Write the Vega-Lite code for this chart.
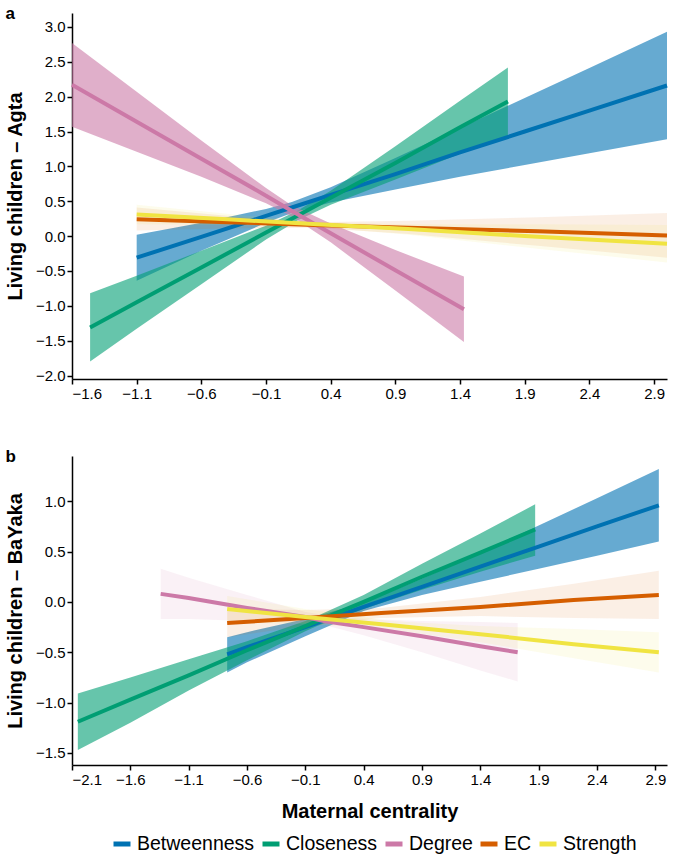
{
"$schema": "https://vega.github.io/schema/vega-lite/v6.json",
"config": {"font": "Liberation Sans", "view": {"stroke": null},
 "axis": {"domainColor": "#000", "domainWidth": 1.5, "tickColor": "#000", "tickWidth": 1.5, "tickSize": 5, "labelFontSize": 15, "labelColor": "#000", "titleFontSize": 20, "titleFontWeight": "bold", "titleColor": "#000", "grid": false, "labelFont": "Liberation Sans", "titleFont": "Liberation Sans", "titlePadding": 10},
 "concat": {"spacing": 47}},
"data": {"values": [
{"p":"a","m":"Betweenness","s":"yes","x":-1.1,"y":-0.31,"lo":-0.64,"hi":0.02},
{"p":"a","m":"Betweenness","s":"yes","x":-0.6,"y":-0.01,"lo":-0.21,"hi":0.19},
{"p":"a","m":"Betweenness","s":"yes","x":-0.1,"y":0.29,"lo":0.19,"hi":0.39},
{"p":"a","m":"Betweenness","s":"yes","x":0.1,"y":0.41,"lo":0.33,"hi":0.49},
{"p":"a","m":"Betweenness","s":"yes","x":0.4,"y":0.59,"lo":0.48,"hi":0.70},
{"p":"a","m":"Betweenness","s":"yes","x":0.9,"y":0.89,"lo":0.67,"hi":1.12},
{"p":"a","m":"Betweenness","s":"yes","x":1.4,"y":1.20,"lo":0.85,"hi":1.55},
{"p":"a","m":"Betweenness","s":"yes","x":1.9,"y":1.50,"lo":1.02,"hi":1.98},
{"p":"a","m":"Betweenness","s":"yes","x":2.4,"y":1.80,"lo":1.19,"hi":2.41},
{"p":"a","m":"Betweenness","s":"yes","x":3.0,"y":2.16,"lo":1.39,"hi":2.93},
{"p":"a","m":"Closeness","s":"yes","x":-1.46,"y":-1.31,"lo":-1.80,"hi":-0.82},
{"p":"a","m":"Closeness","s":"yes","x":-1.1,"y":-0.95,"lo":-1.33,"hi":-0.57},
{"p":"a","m":"Closeness","s":"yes","x":-0.6,"y":-0.45,"lo":-0.69,"hi":-0.21},
{"p":"a","m":"Closeness","s":"yes","x":-0.1,"y":0.05,"lo":-0.05,"hi":0.15},
{"p":"a","m":"Closeness","s":"yes","x":0.15,"y":0.30,"lo":0.23,"hi":0.37},
{"p":"a","m":"Closeness","s":"yes","x":0.4,"y":0.55,"lo":0.45,"hi":0.65},
{"p":"a","m":"Closeness","s":"yes","x":0.9,"y":1.05,"lo":0.81,"hi":1.29},
{"p":"a","m":"Closeness","s":"yes","x":1.4,"y":1.56,"lo":1.18,"hi":1.94},
{"p":"a","m":"Closeness","s":"yes","x":1.77,"y":1.93,"lo":1.44,"hi":2.42},
{"p":"a","m":"Degree","s":"yes","x":-1.6,"y":2.17,"lo":1.57,"hi":2.77},
{"p":"a","m":"Degree","s":"yes","x":-1.1,"y":1.64,"lo":1.21,"hi":2.07},
{"p":"a","m":"Degree","s":"yes","x":-0.6,"y":1.11,"lo":0.85,"hi":1.37},
{"p":"a","m":"Degree","s":"yes","x":-0.1,"y":0.58,"lo":0.47,"hi":0.69},
{"p":"a","m":"Degree","s":"yes","x":0.1,"y":0.36,"lo":0.28,"hi":0.44},
{"p":"a","m":"Degree","s":"yes","x":0.4,"y":0.04,"lo":-0.09,"hi":0.18},
{"p":"a","m":"Degree","s":"yes","x":0.9,"y":-0.49,"lo":-0.78,"hi":-0.20},
{"p":"a","m":"Degree","s":"yes","x":1.43,"y":-1.05,"lo":-1.52,"hi":-0.58},
{"p":"a","m":"EC","s":"no","x":-1.1,"y":0.24,"lo":0.08,"hi":0.41},
{"p":"a","m":"EC","s":"no","x":-0.4,"y":0.20,"lo":0.11,"hi":0.29},
{"p":"a","m":"EC","s":"no","x":0.27,"y":0.16,"lo":0.12,"hi":0.20},
{"p":"a","m":"EC","s":"no","x":1.0,"y":0.12,"lo":0.03,"hi":0.22},
{"p":"a","m":"EC","s":"no","x":2.0,"y":0.07,"lo":-0.14,"hi":0.27},
{"p":"a","m":"EC","s":"no","x":3.0,"y":0.01,"lo":-0.31,"hi":0.33},
{"p":"a","m":"Strength","s":"no","x":-1.1,"y":0.31,"lo":0.17,"hi":0.45},
{"p":"a","m":"Strength","s":"no","x":-0.4,"y":0.24,"lo":0.16,"hi":0.32},
{"p":"a","m":"Strength","s":"no","x":0.3,"y":0.17,"lo":0.13,"hi":0.20},
{"p":"a","m":"Strength","s":"no","x":1.0,"y":0.10,"lo":0.02,"hi":0.17},
{"p":"a","m":"Strength","s":"no","x":2.0,"y":-0.01,"lo":-0.18,"hi":0.17},
{"p":"a","m":"Strength","s":"no","x":3.0,"y":-0.11,"lo":-0.38,"hi":0.16},
{"p":"b","m":"Betweenness","s":"yes","x":-0.77,"y":-0.52,"lo":-0.70,"hi":-0.35},
{"p":"b","m":"Betweenness","s":"yes","x":-0.6,"y":-0.45,"lo":-0.60,"hi":-0.30},
{"p":"b","m":"Betweenness","s":"yes","x":-0.1,"y":-0.25,"lo":-0.34,"hi":-0.17},
{"p":"b","m":"Betweenness","s":"yes","x":0.4,"y":-0.05,"lo":-0.09,"hi":-0.01},
{"p":"b","m":"Betweenness","s":"yes","x":0.9,"y":0.15,"lo":0.07,"hi":0.23},
{"p":"b","m":"Betweenness","s":"yes","x":1.4,"y":0.35,"lo":0.20,"hi":0.49},
{"p":"b","m":"Betweenness","s":"yes","x":1.9,"y":0.55,"lo":0.33,"hi":0.76},
{"p":"b","m":"Betweenness","s":"yes","x":2.4,"y":0.75,"lo":0.46,"hi":1.03},
{"p":"b","m":"Betweenness","s":"yes","x":2.93,"y":0.96,"lo":0.60,"hi":1.32},
{"p":"b","m":"Closeness","s":"yes","x":-2.05,"y":-1.19,"lo":-1.47,"hi":-0.91},
{"p":"b","m":"Closeness","s":"yes","x":-1.6,"y":-0.97,"lo":-1.20,"hi":-0.75},
{"p":"b","m":"Closeness","s":"yes","x":-1.1,"y":-0.73,"lo":-0.88,"hi":-0.57},
{"p":"b","m":"Closeness","s":"yes","x":-0.6,"y":-0.48,"lo":-0.58,"hi":-0.39},
{"p":"b","m":"Closeness","s":"yes","x":-0.1,"y":-0.24,"lo":-0.29,"hi":-0.19},
{"p":"b","m":"Closeness","s":"yes","x":0.0,"y":-0.19,"lo":-0.24,"hi":-0.14},
{"p":"b","m":"Closeness","s":"yes","x":0.4,"y":0.00,"lo":-0.07,"hi":0.07},
{"p":"b","m":"Closeness","s":"yes","x":0.9,"y":0.25,"lo":0.12,"hi":0.38},
{"p":"b","m":"Closeness","s":"yes","x":1.4,"y":0.49,"lo":0.30,"hi":0.68},
{"p":"b","m":"Closeness","s":"yes","x":1.87,"y":0.72,"lo":0.46,"hi":0.97},
{"p":"b","m":"Degree","s":"no","x":-1.34,"y":0.08,"lo":-0.17,"hi":0.33},
{"p":"b","m":"Degree","s":"no","x":-1.1,"y":0.04,"lo":-0.17,"hi":0.24},
{"p":"b","m":"Degree","s":"no","x":-0.6,"y":-0.06,"lo":-0.19,"hi":0.07},
{"p":"b","m":"Degree","s":"no","x":-0.1,"y":-0.15,"lo":-0.21,"hi":-0.10},
{"p":"b","m":"Degree","s":"no","x":0.06,"y":-0.19,"lo":-0.23,"hi":-0.13},
{"p":"b","m":"Degree","s":"no","x":0.4,"y":-0.25,"lo":-0.33,"hi":-0.17},
{"p":"b","m":"Degree","s":"no","x":0.9,"y":-0.34,"lo":-0.50,"hi":-0.19},
{"p":"b","m":"Degree","s":"no","x":1.4,"y":-0.44,"lo":-0.68,"hi":-0.20},
{"p":"b","m":"Degree","s":"no","x":1.72,"y":-0.50,"lo":-0.79,"hi":-0.21},
{"p":"b","m":"EC","s":"no","x":-0.77,"y":-0.21,"lo":-0.35,"hi":-0.07},
{"p":"b","m":"EC","s":"no","x":-0.1,"y":-0.16,"lo":-0.24,"hi":-0.08},
{"p":"b","m":"EC","s":"no","x":0.55,"y":-0.11,"lo":-0.16,"hi":-0.06},
{"p":"b","m":"EC","s":"no","x":1.4,"y":-0.05,"lo":-0.14,"hi":0.05},
{"p":"b","m":"EC","s":"no","x":2.2,"y":0.02,"lo":-0.16,"hi":0.18},
{"p":"b","m":"EC","s":"no","x":2.93,"y":0.07,"lo":-0.17,"hi":0.31},
{"p":"b","m":"Strength","s":"no","x":-0.77,"y":-0.07,"lo":-0.20,"hi":0.06},
{"p":"b","m":"Strength","s":"no","x":-0.1,"y":-0.15,"lo":-0.22,"hi":-0.07},
{"p":"b","m":"Strength","s":"no","x":0.62,"y":-0.23,"lo":-0.27,"hi":-0.19},
{"p":"b","m":"Strength","s":"no","x":1.4,"y":-0.32,"lo":-0.40,"hi":-0.24},
{"p":"b","m":"Strength","s":"no","x":2.2,"y":-0.42,"lo":-0.56,"hi":-0.27},
{"p":"b","m":"Strength","s":"no","x":2.93,"y":-0.50,"lo":-0.70,"hi":-0.30}
]},
"resolve": {"scale": {"color": "shared", "opacity": "shared"}, "legend": {"color": "shared"}},
"vconcat": [
{
 "title": {"text": "a", "anchor": "start", "frame": "bounds", "fontSize": 17, "fontWeight": "bold", "offset": -10, "color": "#000"},
 "width": 595, "height": 366,
 "transform": [{"filter": "datum.p === 'a'"}],
 "encoding": {
  "x": {"field": "x", "type": "quantitative", "scale": {"domain": [-1.6, 3.0], "nice": false, "zero": false}, "axis": {"values": [-1.6,-1.1,-0.6,-0.1,0.4,0.9,1.4,1.9,2.4,2.9], "format": ".1f", "title": null}},
  "color": {"field": "m", "type": "nominal", "scale": {"domain": ["Betweenness","Closeness","Degree","EC","Strength"], "range": ["#0072B2","#009E73","#CC79A7","#D55E00","#F0E442"]},
   "legend": {"orient": "none", "legendX": 39, "legendY": 820, "direction": "horizontal", "title": null, "symbolType": "stroke", "symbolStrokeWidth": 5, "symbolSize": 289, "symbolOpacity": 1, "labelFontSize": 19.5, "labelColor": "#000", "columnPadding": -3, "labelOffset": 4}}
 },
 "layer": [
  {"mark": {"type": "area"}, "encoding": {
    "y": {"field": "lo", "type": "quantitative", "scale": {"domain": [-2.05, 3.2], "nice": false, "zero": false}, "axis": {"values": [-2.0,-1.5,-1.0,-0.5,0.0,0.5,1.0,1.5,2.0,2.5,3.0], "format": ".1f", "title": "Living children – Agta"}},
    "y2": {"field": "hi"},
    "opacity": {"field": "s", "type": "nominal", "scale": {"domain": ["yes","no"], "range": [0.6, 0.1]}, "legend": null}}},
  {"mark": {"type": "line", "strokeWidth": 4}, "encoding": {
    "y": {"field": "y", "type": "quantitative", "axis": {"values": [-2.0,-1.5,-1.0,-0.5,0.0,0.5,1.0,1.5,2.0,2.5,3.0], "format": ".1f", "title": "Living children – Agta"}}}}
 ]
},
{
 "title": {"text": "b", "anchor": "start", "frame": "bounds", "fontSize": 17, "fontWeight": "bold", "offset": -10, "color": "#000"},
 "width": 595, "height": 309,
 "transform": [{"filter": "datum.p === 'b'"}],
 "encoding": {
  "x": {"field": "x", "type": "quantitative", "scale": {"domain": [-2.1, 3.0], "nice": false, "zero": false}, "axis": {"values": [-2.1,-1.6,-1.1,-0.6,-0.1,0.4,0.9,1.4,1.9,2.4,2.9], "format": ".1f", "title": "Maternal centrality", "titlePadding": 14}},
  "color": {"field": "m", "type": "nominal", "scale": {"domain": ["Betweenness","Closeness","Degree","EC","Strength"], "range": ["#0072B2","#009E73","#CC79A7","#D55E00","#F0E442"]},
   "legend": {"orient": "none", "legendX": 39, "legendY": 820, "direction": "horizontal", "title": null, "symbolType": "stroke", "symbolStrokeWidth": 5, "symbolSize": 289, "symbolOpacity": 1, "labelFontSize": 19.5, "labelColor": "#000", "columnPadding": -3, "labelOffset": 4}}
 },
 "layer": [
  {"mark": {"type": "area"}, "encoding": {
    "y": {"field": "lo", "type": "quantitative", "scale": {"domain": [-1.62, 1.45], "nice": false, "zero": false}, "axis": {"values": [-1.5,-1.0,-0.5,0.0,0.5,1.0], "format": ".1f", "title": "Living children – BaYaka"}},
    "y2": {"field": "hi"},
    "opacity": {"field": "s", "type": "nominal", "scale": {"domain": ["yes","no"], "range": [0.6, 0.1]}, "legend": null}}},
  {"mark": {"type": "line", "strokeWidth": 4}, "encoding": {
    "y": {"field": "y", "type": "quantitative", "axis": {"values": [-1.5,-1.0,-0.5,0.0,0.5,1.0], "format": ".1f", "title": "Living children – BaYaka"}}}}
 ]
}
]
}
